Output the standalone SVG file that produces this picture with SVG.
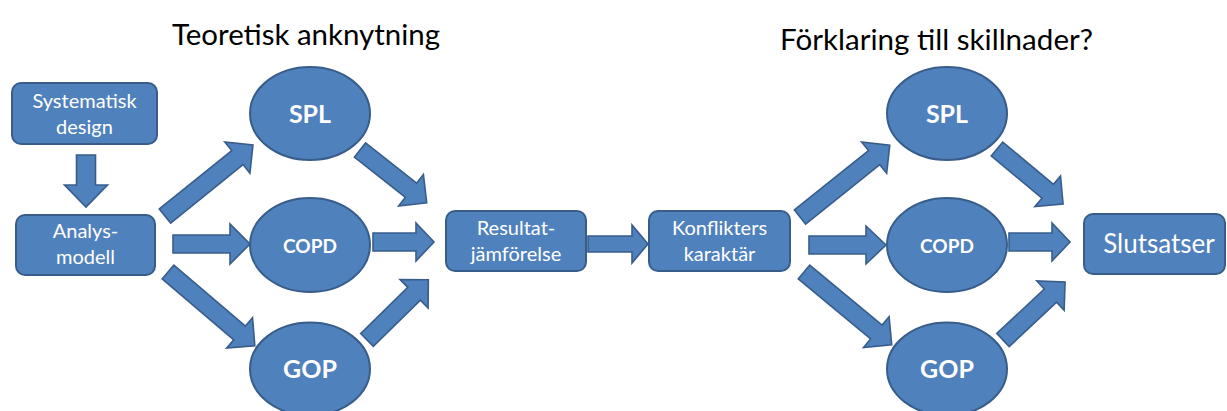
<svg xmlns="http://www.w3.org/2000/svg" width="1227" height="411" viewBox="0 0 1227 411">
<style>
.shape{fill:#4F81BD;stroke:#385D8A;stroke-width:2}
.arr{fill:#4F81BD;stroke:#385D8A;stroke-width:1.6;stroke-linejoin:miter}
.t{fill:#fff;font-family:Lato,"Open Sans",sans-serif;text-anchor:middle}
.title{fill:#000;font-family:Lato,"Open Sans",sans-serif;font-size:29px}
.b{font-weight:bold}
</style>
<rect width="1227" height="411" fill="#fff"/>
<text class="title" x="172" y="45" textLength="268" lengthAdjust="spacingAndGlyphs">Teoretisk anknytning</text>
<text class="title" x="780" y="50" textLength="313" lengthAdjust="spacingAndGlyphs">Förklaring till skillnader?</text>
<g id="connectors">
<polygon class="arr" transform="translate(86,155) rotate(90)" points="0,-9.5 30,-9.5 30,-21.5 52,0 30,21.5 30,9.5 0,9.5"/>
<polygon class="arr" transform="translate(165,216) rotate(-38.9)" points="0,-9 93,-9 93,-20 113,0 93,20 93,9 0,9"/>
<polygon class="arr" transform="translate(173,244) rotate(0)" points="0,-9 57,-9 57,-20 77,0 57,20 57,9 0,9"/>
<polygon class="arr" transform="translate(168,272) rotate(40.4)" points="0,-9 94,-9 94,-20 114,0 94,20 94,9 0,9"/>
<polygon class="arr" transform="translate(360,150) rotate(38.3)" points="0,-9 65,-9 65,-20 85,0 65,20 65,9 0,9"/>
<polygon class="arr" transform="translate(373,242) rotate(0)" points="0,-9 43,-9 43,-19 61,0 43,19 43,9 0,9"/>
<polygon class="arr" transform="translate(367,340) rotate(-44.5)" points="0,-9 66,-9 66,-20 86,0 66,20 66,9 0,9"/>
<polygon class="arr" transform="translate(588,244) rotate(0)" points="0,-8 44,-8 44,-19 60,0 44,19 44,8 0,8"/>
<polygon class="arr" transform="translate(800,217) rotate(-38.7)" points="0,-9 95,-9 95,-20 115,0 95,20 95,9 0,9"/>
<polygon class="arr" transform="translate(809,245) rotate(0)" points="0,-9 57,-9 57,-19 77,0 57,19 57,9 0,9"/>
<polygon class="arr" transform="translate(804,272) rotate(39.7)" points="0,-9 94,-9 94,-20 114,0 94,20 94,9 0,9"/>
<polygon class="arr" transform="translate(997,149) rotate(39.8)" points="0,-9 66,-9 66,-20 86,0 66,20 66,9 0,9"/>
<polygon class="arr" transform="translate(1009,242) rotate(0)" points="0,-9 43,-9 43,-19 61,0 43,19 43,9 0,9"/>
<polygon class="arr" transform="translate(1003,340) rotate(-43.1)" points="0,-9 65,-9 65,-20 85,0 65,20 65,9 0,9"/>
</g>
<g id="systematisk">
<rect class="shape" x="12" y="83" width="145" height="61" rx="9"/>
<text class="t" x="84.5" y="108" font-size="20">Systematisk</text>
<text class="t" x="84.5" y="134" font-size="20">design</text>
</g>
<g id="analys">
<rect class="shape" x="16" y="215" width="139" height="60" rx="9"/>
<text class="t" x="85.5" y="238" font-size="20">Analys-</text>
<text class="t" x="85.5" y="264" font-size="20">modell</text>
</g>
<g id="spl1">
<ellipse class="shape" cx="310" cy="113.5" rx="60" ry="46.5"/>
<text class="t b" x="310" y="123" font-size="25">SPL</text>
</g>
<g id="copd1">
<ellipse class="shape" cx="310" cy="245" rx="60" ry="47"/>
<text class="t b" x="310" y="253" font-size="19">COPD</text>
</g>
<g id="gop1">
<ellipse class="shape" cx="310" cy="369" rx="60" ry="46.5"/>
<text class="t b" x="310" y="378" font-size="25">GOP</text>
</g>
<g id="resultat">
<rect class="shape" x="446" y="211" width="140" height="60" rx="9"/>
<text class="t" x="516" y="235" font-size="20">Resultat-</text>
<text class="t" x="516" y="261" font-size="20">jämförelse</text>
</g>
<g id="konflikters">
<rect class="shape" x="649" y="211" width="141" height="60" rx="9"/>
<text class="t" x="719.5" y="235" font-size="20">Konflikters</text>
<text class="t" x="719.5" y="261" font-size="20">karaktär</text>
</g>
<g id="spl2">
<ellipse class="shape" cx="947" cy="113.5" rx="60" ry="46.5"/>
<text class="t b" x="947" y="123" font-size="25">SPL</text>
</g>
<g id="copd2">
<ellipse class="shape" cx="947" cy="245" rx="60" ry="47"/>
<text class="t b" x="947" y="253" font-size="19">COPD</text>
</g>
<g id="gop2">
<ellipse class="shape" cx="947" cy="369" rx="60" ry="46.5"/>
<text class="t b" x="947" y="378" font-size="25">GOP</text>
</g>
<g id="slutsatser">
<rect class="shape" x="1084" y="214" width="141" height="60" rx="9"/>
<text class="t" x="1159" y="253" font-size="26">Slutsatser</text>
</g>
</svg>
